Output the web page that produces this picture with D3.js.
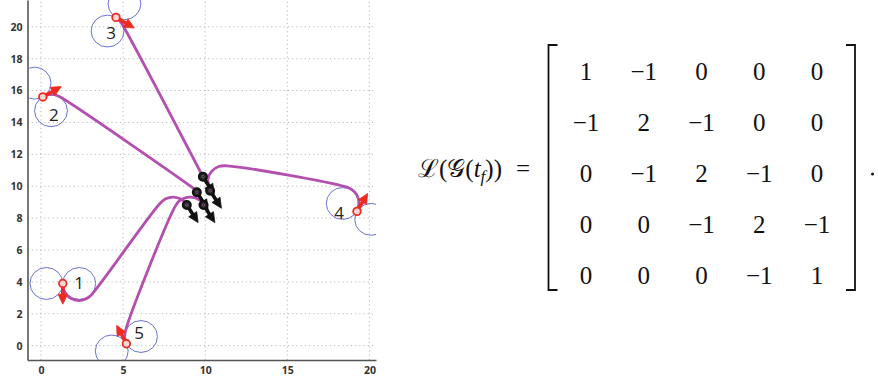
<!DOCTYPE html>
<html>
<head>
<meta charset="utf-8">
<script src="https://cdn.jsdelivr.net/npm/d3@7"></script>
<style>
  html, body { margin: 0; padding: 0; background: #fff; }
  svg { display: block; }
  .equation text { font-family: "Liberation Serif", "Times New Roman", "DejaVu Serif", serif; }
</style>
</head>
<body>
<svg id="chart"></svg>
<script>
const WIDTH = 878;
const HEIGHT = 381;

const PLOT = { left: 27.5, right: 376, top: 0, bottom: 360 };

// axes
const xDomain = [-0.82, 20.4];
const yDomain = [-0.9, 21.68];
const xTicks = [0, 5, 10, 15, 20];
const yTicks = [0, 2, 4, 6, 8, 10, 12, 14, 16, 18, 20];

// agents: start pose (red), final pose (black)
const agentIds = [1, 2, 3, 4, 5];
const startX = [1.33, 0.11, 4.57, 19.24, 5.2];
const startY = [3.9, 15.6, 20.59, 8.42, 0.12];
const startHeading = [-90, 30, -31, 60, 117]; // degrees
const finalX = [8.88, 9.49, 9.86, 10.3, 9.9];
const finalY = [8.82, 9.62, 10.6, 9.72, 8.82];
const finalHeading = -58;
const turnRadius = 1;

// label positions for the agent numbers
const labelX = [2.32, 0.79, 4.27, 18.15, 5.98];
const labelY = [3.93, 14.47, 19.67, 8.38, 0.8];

// trajectories, [x, y]
const path1 = [
  [1.31, 3.87], [1.45, 3.35], [1.81, 2.97], [2.32, 2.83], [2.82, 2.97],
  [3.13, 3.26], [7.23, 8.9], [7.59, 9.21], [8.05, 9.32], [8.55, 9.18], [8.88, 8.82],
];
const path2 = [
  [0.11, 15.61], [0.46, 15.75], [0.83, 15.74], [1.17, 15.59],
  [9.21, 9.92], [9.37, 9.79], [9.49, 9.62],
];
const path3 = [
  [4.57, 20.59], [4.79, 20.38], [4.96, 20.13], [9.86, 10.6],
];
const path4 = [
  [19.23, 8.43], [19.36, 8.95], [19.23, 9.46], [18.93, 9.79], [18.53, 9.97],
  [11.34, 11.28], [10.82, 11.24], [10.39, 10.93], [10.17, 10.45], [10.3, 9.72],
];
const path5 = [
  [5.21, 0.12], [5.1, 0.52], [5.16, 0.98], [8.13, 8.66], [8.42, 9.08],
  [8.89, 9.3], [9.41, 9.26], [9.78, 9.02], [9.9, 8.82],
];
const trajectories = [path1, path2, path3, path4, path5];

// Laplacian at t_f
const matrixRows = [
  [1, -1, 0, 0, 0],
  [-1, 2, -1, 0, 0],
  [0, -1, 2, -1, 0],
  [0, 0, -1, 2, -1],
  [0, 0, 0, -1, 1],
];

const COLORS = {
  grid: "#b8b8b8",
  axis: "#555",
  tick: "#333",
  path: "#b44fb0",
  circle: "#6a72d4",
  start: "#ee2a22",
  final: "#111",
};

const svg = d3.select("#chart").attr("width", WIDTH).attr("height", HEIGHT);

const x = d3.scaleLinear().domain(xDomain).range([PLOT.left, PLOT.right]);
const y = d3.scaleLinear().domain(yDomain).range([PLOT.bottom, PLOT.top]);

svg
  .append("clipPath")
  .attr("id", "plot-clip")
  .append("rect")
  .attr("x", PLOT.left)
  .attr("y", PLOT.top)
  .attr("width", PLOT.right - PLOT.left)
  .attr("height", PLOT.bottom - PLOT.top);

// grid
const gridG = svg.append("g").attr("class", "grid");
gridG
  .selectAll(".gx")
  .data(xTicks)
  .join("line")
  .attr("x1", (d) => x(d))
  .attr("x2", (d) => x(d))
  .attr("y1", PLOT.bottom)
  .attr("y2", PLOT.top)
  .attr("stroke", COLORS.grid)
  .attr("stroke-dasharray", "1.2,3");
gridG
  .selectAll(".gy")
  .data(yTicks)
  .join("line")
  .attr("y1", (d) => y(d))
  .attr("y2", (d) => y(d))
  .attr("x1", PLOT.left)
  .attr("x2", PLOT.right)
  .attr("stroke", COLORS.grid)
  .attr("stroke-dasharray", "1.2,3");

// axes
const styleAxis = (g) => {
  g.select(".domain").attr("stroke", COLORS.axis).attr("stroke-width", 1.6);
  g.selectAll(".tick line").remove();
  g.selectAll(".tick text")
    .attr("fill", COLORS.tick)
    .attr("font-family", "'Open Sans', sans-serif")
    .attr("font-weight", 700)
    .attr("font-size", 10.5);
};

svg
  .append("g")
  .attr("transform", `translate(0, ${PLOT.bottom})`)
  .call(d3.axisBottom(x).tickValues(xTicks).tickSize(0).tickPadding(7))
  .call(styleAxis);

svg
  .append("g")
  .attr("transform", `translate(${PLOT.left}, 0)`)
  .call(d3.axisLeft(y).tickValues(yTicks).tickSize(0).tickPadding(5))
  .call(styleAxis);

const rad = (deg) => (deg * Math.PI) / 180;

// turning circles at each start pose
const circles = agentIds.flatMap((id, i) =>
  [90, -90].map((off) => ({
    cx: startX[i] + turnRadius * Math.cos(rad(startHeading[i] + off)),
    cy: startY[i] + turnRadius * Math.sin(rad(startHeading[i] + off)),
  }))
);

const plotG = svg.append("g").attr("clip-path", "url(#plot-clip)");

plotG
  .selectAll(".turn-circle")
  .data(circles)
  .join("ellipse")
  .attr("class", "turn-circle")
  .attr("cx", (d) => x(d.cx))
  .attr("cy", (d) => y(d.cy))
  .attr("rx", x(turnRadius) - x(0))
  .attr("ry", y(0) - y(turnRadius))
  .attr("fill", "none")
  .attr("stroke", COLORS.circle)
  .attr("stroke-width", 1);

const line = d3
  .line()
  .x((d) => x(d[0]))
  .y((d) => y(d[1]))
  .curve(d3.curveCatmullRom.alpha(0.5));

plotG
  .selectAll(".traj")
  .data(trajectories)
  .join("path")
  .attr("class", "traj")
  .attr("d", line)
  .attr("fill", "none")
  .attr("stroke", COLORS.path)
  .attr("stroke-width", 2.8)
  .attr("stroke-linecap", "round");

// quiver style arrows
function drawArrows(g, xs, ys, headings, len, color) {
  const arrows = xs.map((x0, i) => {
    const h = rad(headings[i]);
    const p0 = [x(x0), y(ys[i])];
    const p1 = [x(x0 + len * Math.cos(h)), y(ys[i] + len * Math.sin(h))];
    const dx = p1[0] - p0[0];
    const dy = p1[1] - p0[1];
    const l = Math.hypot(dx, dy);
    const ux = dx / l;
    const uy = dy / l;
    const headLen = 10;
    const headW = 9.5;
    const base = [p1[0] - ux * headLen, p1[1] - uy * headLen];
    return { p0, p1, base, ux, uy, headW };
  });

  g.selectAll(null)
    .data(arrows)
    .join("line")
    .attr("x1", (d) => d.p0[0])
    .attr("y1", (d) => d.p0[1])
    .attr("x2", (d) => d.base[0] + d.ux)
    .attr("y2", (d) => d.base[1] + d.uy)
    .attr("stroke", color)
    .attr("stroke-width", 3.6);

  g.selectAll(null)
    .data(arrows)
    .join("path")
    .attr("d", (d) => {
      const hw = d.headW / 2;
      return `M${d.p1[0]},${d.p1[1]}L${d.base[0] - d.uy * hw},${d.base[1] + d.ux * hw}L${d.base[0] + d.uy * hw},${d.base[1] - d.ux * hw}Z`;
    })
    .attr("fill", color)
    .attr("stroke", color)
    .attr("stroke-width", 0.8)
    .attr("stroke-linejoin", "round");
}

const startG = svg.append("g").attr("class", "start");
drawArrows(startG, startX, startY, startHeading, 1.3, COLORS.start);
startG
  .selectAll("circle")
  .data(agentIds)
  .join("circle")
  .attr("cx", (d, i) => x(startX[i]))
  .attr("cy", (d, i) => y(startY[i]))
  .attr("r", 3.8)
  .attr("fill", "#fbd6d2")
  .attr("stroke", COLORS.start)
  .attr("stroke-width", 1.8);

const finalG = svg.append("g").attr("class", "final");
drawArrows(
  finalG,
  finalX,
  finalY,
  agentIds.map(() => finalHeading),
  1.3,
  COLORS.final
);
finalG
  .selectAll("circle.m")
  .data(agentIds)
  .join("circle")
  .attr("class", "m")
  .attr("cx", (d, i) => x(finalX[i]))
  .attr("cy", (d, i) => y(finalY[i]))
  .attr("r", 4)
  .attr("fill", "#222")
  .attr("stroke", COLORS.final)
  .attr("stroke-width", 2);
finalG
  .selectAll("circle.dot")
  .data(agentIds)
  .join("circle")
  .attr("class", "dot")
  .attr("cx", (d, i) => x(finalX[i]))
  .attr("cy", (d, i) => y(finalY[i]))
  .attr("r", 1.3)
  .attr("fill", "none")
  .attr("stroke", "#8a5a8a")
  .attr("stroke-width", 0.8);

svg
  .append("g")
  .selectAll("text")
  .data(agentIds)
  .join("text")
  .attr("x", (d, i) => x(labelX[i]))
  .attr("y", (d, i) => y(labelY[i]))
  .attr("text-anchor", "middle")
  .attr("dominant-baseline", "central")
  .attr("font-family", "'Open Sans', sans-serif")
  .attr("font-size", 17)
  .attr("fill", "#222")
  .text((d) => d);

// ---- Laplacian equation ----
const eqG = svg
  .append("g")
  .attr("class", "equation")
  .attr("font-size", 25)
  .attr("fill", "#111");

const lhs = eqG.append("text").attr("x", 418).attr("y", 177);
lhs.append("tspan").text("\u2112(");
lhs.append("tspan").text("\u{1D4A2}(");
lhs.append("tspan").attr("font-style", "italic").text("t");
lhs
  .append("tspan")
  .attr("font-style", "italic")
  .attr("font-size", 17)
  .attr("dy", 5)
  .text("f");
lhs.append("tspan").attr("dy", -5).text("))");
eqG.append("text").attr("x", 516).attr("y", 177).text("=");

const colPos = d3.scalePoint().domain(d3.range(5)).range([586, 817]);
const rowPos = d3.scalePoint().domain(d3.range(5)).range([71.7, 275]);
const fmt = (v) => (v < 0 ? "\u2212" + Math.abs(v) : String(v));

eqG
  .selectAll("g.row")
  .data(matrixRows)
  .join("g")
  .attr("class", "row")
  .selectAll("text")
  .data((row, r) => row.map((v, c) => ({ v, r, c })))
  .join("text")
  .attr("x", (d) => colPos(d.c))
  .attr("y", (d) => rowPos(d.r) + 8.5)
  .attr("text-anchor", "middle")
  .text((d) => fmt(d.v));

const bracketTop = 45;
const bracketBottom = 290;
const bracketSerif = 9;
[
  { xv: 548.5, dir: 1 },
  { xv: 855, dir: -1 },
].forEach(({ xv, dir }) => {
  eqG
    .append("path")
    .attr(
      "d",
      `M${xv + dir * bracketSerif},${bracketTop}H${xv}V${bracketBottom}H${xv + dir * bracketSerif}`
    )
    .attr("fill", "none")
    .attr("stroke", "#111")
    .attr("stroke-width", 1.8);
});

eqG
  .append("circle")
  .attr("cx", 872.5)
  .attr("cy", 174)
  .attr("r", 1.5)
  .attr("fill", "#111");
</script>
</body>
</html>
